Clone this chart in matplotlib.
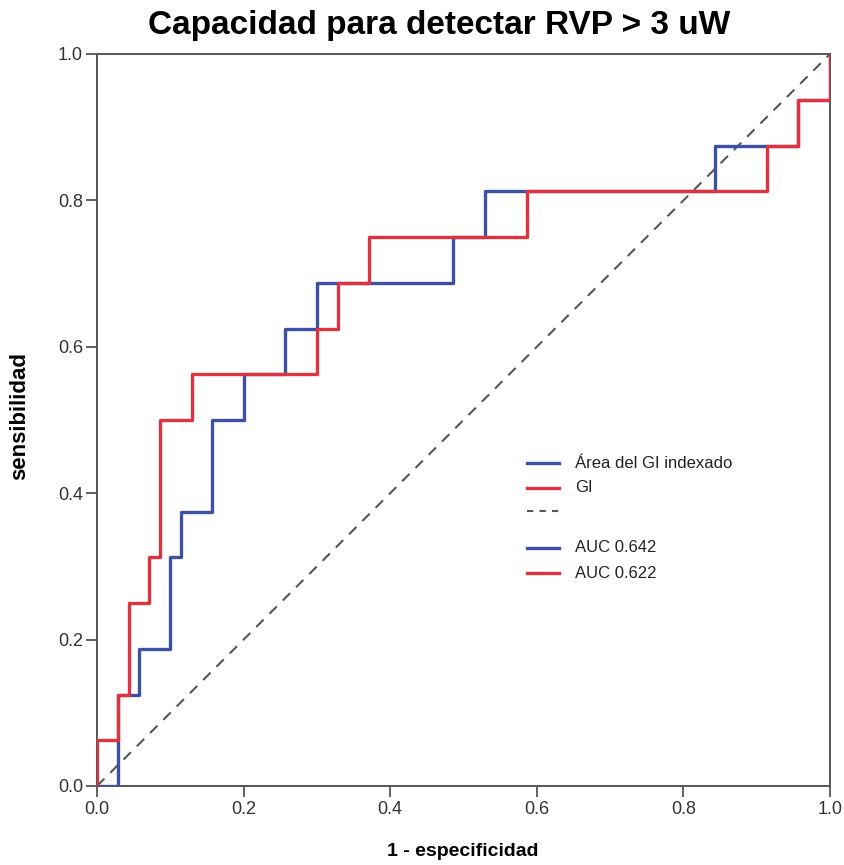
import numpy as np
import matplotlib
matplotlib.use("Agg")
import matplotlib.pyplot as plt

# ROC corner points (1 - especificidad, sensibilidad)
fpr_area = [0.0, 0.029, 0.057, 0.100, 0.114, 0.157, 0.200, 0.257, 0.300, 0.486, 0.529, 0.843, 0.957, 1.0]
tpr_area = [0.0, 0.125, 0.1875, 0.3125, 0.375, 0.500, 0.5625, 0.625, 0.6875, 0.750, 0.8125, 0.875, 0.9375, 1.0]

fpr_gi = [0.0, 0.0, 0.029, 0.043, 0.071, 0.086, 0.129, 0.300, 0.329, 0.371, 0.586, 0.914, 0.957, 1.0]
tpr_gi = [0.0, 0.0625, 0.125, 0.250, 0.3125, 0.500, 0.5625, 0.625, 0.6875, 0.750, 0.8125, 0.875, 0.9375, 1.0]

auc_area = 0.642
auc_gi = 0.622

ticks = [0.0, 0.2, 0.4, 0.6, 0.8, 1.0]

BLUE = "#3d51a3"
RED = "#de3340"
GRAY = "#555555"

plt.rcParams['font.family'] = ['Liberation Sans', 'DejaVu Sans']

W, H = 845, 865
fig = plt.figure(figsize=(W / 100, H / 100), dpi=100)
ax = fig.add_axes([97 / W, (H - 786) / H, 733 / W, 732 / H])

ax.plot([0, 1], [0, 1], color=GRAY, lw=1.5, dashes=(5, 4), zorder=2)
ax.plot(fpr_area, tpr_area, drawstyle='steps-post', color=BLUE, lw=2.4, zorder=3)
ax.plot(fpr_gi, tpr_gi, drawstyle='steps-post', color=RED, lw=2.4, zorder=4)

ax.set_xlim(0, 1)
ax.set_ylim(0, 1)
ax.set_xticks(ticks)
ax.set_yticks(ticks)
ax.set_xticklabels([f"{t:.1f}" for t in ticks])
ax.set_yticklabels([f"{t:.1f}" for t in ticks])
ax.tick_params(length=8, width=1.3, color=GRAY, labelsize=13, labelcolor="#333333")
ax.tick_params(axis='x', pad=3)
ax.tick_params(axis='y', pad=2)
for s in ax.spines.values():
    s.set_color(GRAY)
    s.set_linewidth(1.4)

fig.text(463 / W, 1 - 851 / H, "1 - especificidad", ha='center', va='center',
         fontsize=14, fontweight='bold')
fig.text(20 / W, 1 - 416 / H, "sensibilidad", ha='center', va='center',
         rotation=90, fontsize=16, fontweight='bold')
fig.text(439 / W, 1 - 34 / H, "Capacidad para detectar RVP > 3 uW",
         ha='center', va='baseline', fontsize=24, fontweight='bold')

# hand-built legend (SPSS style, no frame)
def to_ax(px, py):
    return (px - 97) / 733, (786 - py) / 732

rows = [
    (463, BLUE, None, "Área del GI indexado"),
    (488, RED, None, "GI"),
    (511, GRAY, (3, 3), ""),
    (548, BLUE, None, f"AUC {auc_area:.3f}"),
    (573, RED, None, f"AUC {auc_gi:.3f}"),
]
for py, c, dash, lab in rows:
    x0, y0 = to_ax(527, py)
    x1, _ = to_ax(559, py)
    kw = dict(color=c, lw=2.4 if dash is None else 1.5, transform=ax.transAxes, clip_on=False)
    if dash is not None:
        kw['dashes'] = dash
    ax.plot([x0, x1], [y0, y0], **kw)
    if lab:
        tx, _ = to_ax(575, py)
        ax.text(tx, y0, lab, transform=ax.transAxes, va='center', ha='left',
                fontsize=12, color="#222222")

fig.savefig("out.png", dpi=100)
